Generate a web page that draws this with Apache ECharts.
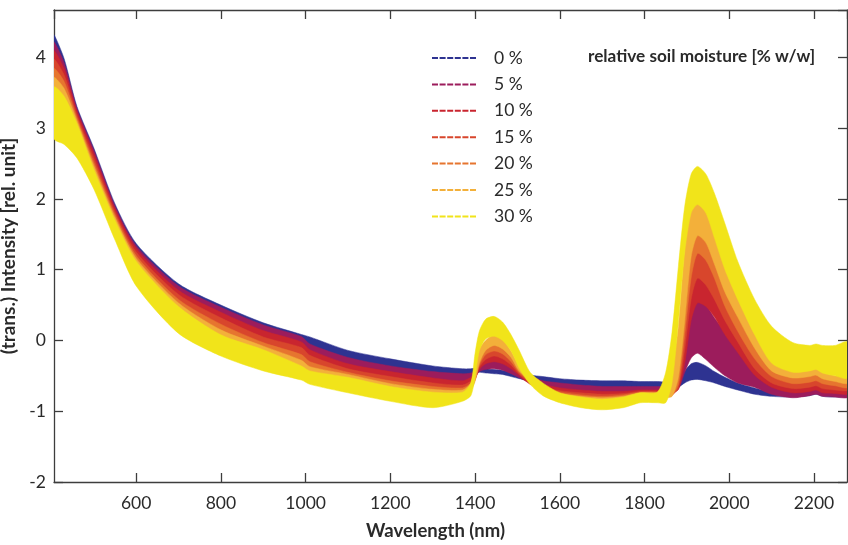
<!DOCTYPE html>
<html>
<head>
<meta charset="utf-8">
<script src="https://cdn.jsdelivr.net/npm/echarts@6/dist/echarts.min.js"></script>
<style>
  html, body { margin: 0; padding: 0; background: #fff; }
  #chart { width: 848px; height: 545px; }
</style>
</head>
<body>
<div id="chart"></div>
<script>
// wavelength sample points (nm)
var wavelengths = [406, 430, 460, 500, 550, 600, 700, 800, 900, 990, 1010, 1100, 1200, 1300, 1370,
  1390, 1400, 1410, 1425, 1445, 1465, 1485, 1505, 1530, 1560, 1600, 1650, 1700, 1750, 1790, 1830, 1850,
  1865, 1880, 1895, 1910, 1925, 1945, 1965, 1990, 2020, 2060, 2100, 2150, 2190, 2205, 2220, 2250, 2278]

// lower / upper edge of the spectra bundle for each moisture level
var moist0Lo = [4.19, 3.89, 3.25, 2.66, 1.87, 1.31, 0.74, 0.44, 0.19, 0.02, -0.08, -0.27, -0.39, -0.47, -0.50,
  -0.47, -0.46, -0.45, -0.46, -0.47, -0.48, -0.51, -0.54, -0.57, -0.60, -0.63, -0.65, -0.67, -0.67, -0.67, -0.68, -0.68,
  -0.68, -0.66, -0.60, -0.56, -0.55, -0.57, -0.60, -0.65, -0.70, -0.76, -0.79, -0.80, -0.78, -0.76, -0.79, -0.80, -0.80]
var moist0Hi = [4.32, 3.98, 3.31, 2.72, 1.93, 1.37, 0.80, 0.50, 0.25, 0.085, 0.05, -0.14, -0.26, -0.36, -0.40,
  -0.40, -0.39, -0.38, -0.40, -0.41, -0.42, -0.45, -0.47, -0.49, -0.51, -0.54, -0.56, -0.57, -0.57, -0.58, -0.58, -0.59,
  -0.60, -0.56, -0.43, -0.33, -0.31, -0.36, -0.44, -0.52, -0.60, -0.67, -0.72, -0.76, -0.74, -0.72, -0.75, -0.76, -0.76]

var moist5Lo = [4.07, 3.81, 3.21, 2.61, 1.83, 1.27, 0.68, 0.37, 0.11, -0.05, -0.16, -0.36, -0.47, -0.56, -0.60,
  -0.55, -0.52, -0.44, -0.41, -0.40, -0.42, -0.47, -0.53, -0.60, -0.65, -0.69, -0.72, -0.74, -0.74, -0.73, -0.74, -0.75,
  -0.73, -0.69, -0.45, -0.25, -0.18, -0.27, -0.38, -0.50, -0.60, -0.66, -0.76, -0.81, -0.78, -0.76, -0.79, -0.80, -0.81]
var moist5Hi = [4.22, 3.92, 3.28, 2.69, 1.90, 1.34, 0.77, 0.47, 0.22, 0.055, -0.05, -0.24, -0.36, -0.44, -0.47,
  -0.46, -0.42, -0.33, -0.30, -0.27, -0.31, -0.37, -0.44, -0.50, -0.57, -0.60, -0.63, -0.65, -0.65, -0.65, -0.65, -0.65,
  -0.62, -0.45, 0.00, 0.40, 0.58, 0.50, 0.32, 0.12, -0.13, -0.44, -0.62, -0.70, -0.68, -0.67, -0.70, -0.72, -0.73]

var moist10Lo = [3.95, 3.72, 3.16, 2.55, 1.79, 1.22, 0.62, 0.29, 0.02, -0.13, -0.24, -0.43, -0.54, -0.63, -0.66,
  -0.61, -0.55, -0.41, -0.33, -0.30, -0.33, -0.40, -0.50, -0.62, -0.68, -0.73, -0.76, -0.78, -0.77, -0.75, -0.75, -0.76,
  -0.75, -0.69, -0.32, 0.28, 0.53, 0.48, 0.33, 0.08, -0.17, -0.49, -0.66, -0.74, -0.72, -0.70, -0.74, -0.75, -0.76]
var moist10Hi = [4.10, 3.84, 3.24, 2.64, 1.86, 1.30, 0.71, 0.40, 0.14, -0.02, -0.13, -0.33, -0.44, -0.53, -0.57,
  -0.52, -0.44, -0.29, -0.21, -0.17, -0.21, -0.32, -0.44, -0.54, -0.62, -0.67, -0.70, -0.72, -0.72, -0.70, -0.70, -0.70,
  -0.60, -0.35, 0.30, 0.75, 0.92, 0.82, 0.62, 0.32, 0.02, -0.36, -0.56, -0.65, -0.63, -0.62, -0.65, -0.68, -0.69]

var moist15Lo = [3.82, 3.63, 3.12, 2.49, 1.75, 1.17, 0.55, 0.20, -0.06, -0.23, -0.33, -0.48, -0.60, -0.68, -0.70,
  -0.65, -0.56, -0.38, -0.27, -0.22, -0.26, -0.35, -0.48, -0.60, -0.70, -0.76, -0.79, -0.81, -0.80, -0.77, -0.77, -0.78,
  -0.77, -0.67, -0.12, 0.58, 0.88, 0.78, 0.58, 0.28, -0.02, -0.40, -0.60, -0.68, -0.66, -0.64, -0.68, -0.70, -0.71]
var moist15Hi = [3.98, 3.75, 3.19, 2.58, 1.82, 1.25, 0.65, 0.32, 0.05, -0.10, -0.21, -0.40, -0.51, -0.60, -0.63,
  -0.57, -0.43, -0.25, -0.15, -0.11, -0.15, -0.27, -0.42, -0.52, -0.65, -0.71, -0.74, -0.76, -0.75, -0.72, -0.72, -0.72,
  -0.55, -0.20, 0.60, 1.10, 1.28, 1.18, 0.92, 0.52, 0.17, -0.23, -0.48, -0.59, -0.57, -0.55, -0.59, -0.62, -0.64]

var moist20Lo = [3.69, 3.53, 3.08, 2.44, 1.71, 1.13, 0.50, 0.12, -0.11, -0.31, -0.40, -0.51, -0.64, -0.72, -0.73,
  -0.68, -0.56, -0.35, -0.20, -0.15, -0.19, -0.30, -0.46, -0.58, -0.71, -0.78, -0.81, -0.83, -0.81, -0.78, -0.78, -0.79,
  -0.78, -0.62, 0.08, 0.88, 1.23, 1.13, 0.88, 0.48, 0.13, -0.26, -0.51, -0.61, -0.59, -0.57, -0.61, -0.64, -0.67]
var moist20Hi = [3.85, 3.66, 3.15, 2.52, 1.78, 1.20, 0.58, 0.23, -0.03, -0.20, -0.30, -0.45, -0.57, -0.65, -0.67,
  -0.60, -0.40, -0.18, -0.08, -0.03, -0.08, -0.22, -0.40, -0.50, -0.66, -0.73, -0.77, -0.79, -0.77, -0.73, -0.73, -0.73,
  -0.50, 0.00, 0.90, 1.50, 1.55, 1.45, 1.15, 0.75, 0.38, -0.08, -0.40, -0.50, -0.49, -0.47, -0.52, -0.56, -0.58]

var moist25Lo = [3.55, 3.42, 3.04, 2.39, 1.67, 1.09, 0.45, 0.05, -0.16, -0.39, -0.46, -0.55, -0.68, -0.76, -0.76,
  -0.70, -0.58, -0.32, -0.14, -0.07, -0.12, -0.24, -0.44, -0.56, -0.72, -0.80, -0.83, -0.85, -0.83, -0.79, -0.79, -0.81,
  -0.79, -0.52, 0.28, 1.18, 1.48, 1.38, 1.08, 0.68, 0.33, -0.11, -0.43, -0.53, -0.51, -0.49, -0.54, -0.58, -0.61]
var moist25Hi = [3.72, 3.56, 3.11, 2.47, 1.74, 1.16, 0.53, 0.15, -0.08, -0.28, -0.37, -0.48, -0.61, -0.69, -0.70,
  -0.60, -0.35, -0.12, 0.00, 0.08, 0.02, -0.15, -0.36, -0.48, -0.66, -0.75, -0.79, -0.81, -0.79, -0.74, -0.74, -0.74,
  -0.40, 0.20, 1.30, 1.85, 1.95, 1.85, 1.50, 1.05, 0.62, 0.12, -0.30, -0.42, -0.42, -0.40, -0.45, -0.50, -0.52]

var moist30Lo = [2.85, 2.77, 2.58, 2.14, 1.42, 0.77, 0.10, -0.22, -0.43, -0.56, -0.62, -0.74, -0.86, -0.95, -0.86,
  -0.78, -0.52, -0.15, 0.02, 0.06, 0.00, -0.15, -0.40, -0.62, -0.78, -0.88, -0.95, -0.98, -0.95, -0.88, -0.88, -0.88,
  -0.60, 0.25, 1.25, 1.80, 1.92, 1.80, 1.45, 1.00, 0.58, 0.08, -0.32, -0.45, -0.43, -0.41, -0.46, -0.50, -0.53]
var moist30Hi = [3.58, 3.45, 3.07, 2.42, 1.70, 1.12, 0.48, 0.08, -0.13, -0.36, -0.43, -0.52, -0.65, -0.73, -0.73,
  -0.60, -0.18, 0.13, 0.30, 0.34, 0.26, 0.08, -0.15, -0.45, -0.60, -0.74, -0.80, -0.83, -0.80, -0.74, -0.73, -0.45,
  0.12, 1.05, 1.90, 2.35, 2.46, 2.35, 2.08, 1.65, 1.12, 0.58, 0.20, -0.03, -0.07, -0.05, -0.07, -0.07, -0.02]

var moistureLabels = ['0 %', '5 %', '10 %', '15 %', '20 %', '25 %', '30 %']
var bandColors = ['#2e3391', '#9c1c5c', '#c9252f', '#d8462c', '#e6752f', '#f3b03a', '#f1e41a']
var bandLows = [moist0Lo, moist5Lo, moist10Lo, moist15Lo, moist20Lo, moist25Lo, moist30Lo]
var bandHighs = [moist0Hi, moist5Hi, moist10Hi, moist15Hi, moist20Hi, moist25Hi, moist30Hi]

var labelFont = 'Lato'
var inkColor = '#2a2a2a'

// one filled polygon per moisture level: upper edge forward, lower edge back
function renderBand (params, api) {
  if (params.dataIndexInside !== 0) return null
  var n = params.dataInsideLength
  var upper = []
  var lower = []
  for (var i = 0; i < n; i++) {
    upper.push(api.coord([api.value(0, i), api.value(2, i)]))
    lower.push(api.coord([api.value(0, i), api.value(1, i)]))
  }
  var color = api.visual('color')
  return {
    type: 'polygon',
    shape: { points: upper.concat(lower.reverse()), smooth: 0.25 },
    style: { fill: color, stroke: color, lineWidth: 0.5 }
  }
}

var series = bandLows.map(function (lo, k) {
  var hi = bandHighs[k]
  return {
    type: 'custom',
    name: moistureLabels[k],
    renderItem: renderBand,
    clip: true,
    encode: { x: 0, y: [1, 2] },
    itemStyle: { color: bandColors[k] },
    data: wavelengths.map(function (w, i) { return [w, lo[i], hi[i]] })
  }
})

var axisLine = { show: true, onZero: false, lineStyle: { color: '#3d3d3d', width: 1.3 } }
var axisTick = { show: true, inside: true, length: 9, lineStyle: { color: '#3d3d3d', width: 1.3 } }
var plainNumber = function (v) { return String(v) }

var chart = echarts.init(document.getElementById('chart'))
chart.setOption({
  animation: false,
  backgroundColor: '#fff',
  title: {
    text: 'relative soil moisture [% w/w]',
    left: 588,
    top: 48,
    padding: 0,
    textStyle: { fontFamily: labelFont, fontWeight: 'bold', fontSize: 17.2, color: inkColor }
  },
  legend: {
    orient: 'vertical',
    left: 432,
    top: 48,
    padding: 0,
    itemGap: 6.4,
    itemWidth: 44,
    itemHeight: 2,
    icon: 'path://M0,0h6v2h-6z M7.6,0h6v2h-6z M15.2,0h6v2h-6z M22.8,0h6v2h-6z M30.4,0h6v2h-6z M38,0h6v2h-6z',
    data: moistureLabels,
    textStyle: { fontFamily: labelFont, fontSize: 17.5, color: inkColor, lineHeight: 20, padding: [0, 0, 0, 13] }
  },
  grid: { left: 54, right: 1, top: 10, bottom: 63, containLabel: false, outerBoundsMode: 'none' },
  xAxis: [{
    type: 'value',
    min: 406,
    max: 2278,
    splitNumber: 9,
    name: 'Wavelength (nm)',
    nameLocation: 'middle',
    nameGap: 40,
    nameTextStyle: { fontFamily: labelFont, fontWeight: 'bold', fontSize: 18.5, color: inkColor, padding: [0, 30, 0, 0] },
    axisLine: axisLine,
    axisTick: axisTick,
    splitLine: { show: false },
    axisLabel: { margin: 12, showMinLabel: false, showMaxLabel: false, formatter: plainNumber, fontFamily: labelFont, fontSize: 17.5, color: inkColor }
  }, {
    type: 'value',
    position: 'top',
    min: 406,
    max: 2278,
    splitNumber: 9,
    axisLine: axisLine,
    axisTick: axisTick,
    splitLine: { show: false },
    axisLabel: { show: false }
  }],
  yAxis: [{
    type: 'value',
    min: -2,
    max: 4.67,
    interval: 1,
    name: '(trans.) Intensity [rel. unit]',
    nameLocation: 'middle',
    nameGap: 25,
    nameTextStyle: { fontFamily: labelFont, fontWeight: 'bold', fontSize: 19, color: inkColor },
    axisLine: axisLine,
    axisTick: axisTick,
    splitLine: { show: false },
    axisLabel: { margin: 8, showMaxLabel: false, formatter: plainNumber, fontFamily: labelFont, fontSize: 17.5, color: inkColor }
  }, {
    type: 'value',
    position: 'right',
    min: -2,
    max: 4.67,
    interval: 1,
    axisLine: axisLine,
    axisTick: axisTick,
    splitLine: { show: false },
    axisLabel: { show: false }
  }],
  series: series
})
</script>
</body>
</html>
